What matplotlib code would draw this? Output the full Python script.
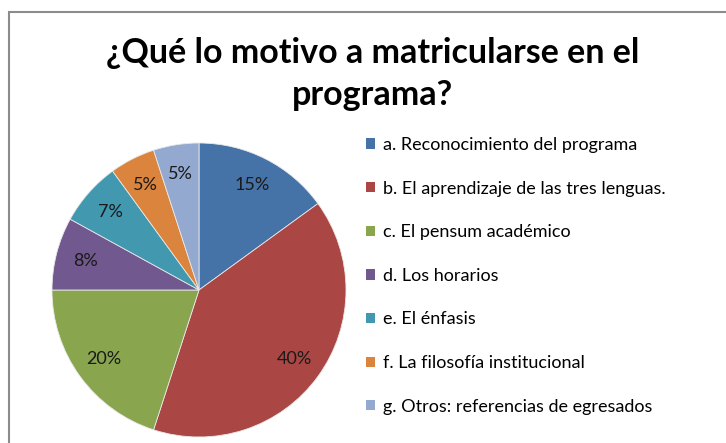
import matplotlib
matplotlib.use("Agg")
import matplotlib.pyplot as plt
from matplotlib.patches import Rectangle, Patch

labels = [
    "a. Reconocimiento del programa",
    "b. El aprendizaje de las tres lenguas.",
    "c. El pensum académico",
    "d. Los horarios",
    "e. El énfasis",
    "f. La filosofía institucional",
    "g. Otros: referencias de egresados",
]
values = [15, 40, 20, 8, 7, 5, 5]
colors = ["#4572A7", "#AA4643", "#89A54E", "#71588F", "#4198AF", "#DB843D", "#93A9CF"]
title = "¿Qué lo motivo a matricularse en el\nprograma?"

fig = plt.figure(figsize=(7.26, 4.43), dpi=100)

# grey chart-area frame, running off the right and bottom edges
fig.patches.append(Rectangle((8.5 / 726, -0.05), 1.2, 1.05 - 12 / 443,
                             transform=fig.transFigure, fill=False,
                             edgecolor="#8c8c8c", linewidth=1.5))

ax = fig.add_axes([52 / 726, 6 / 443, 294 / 726, 294 / 443])
wedges, texts, autotexts = ax.pie(
    values, colors=colors, startangle=90, counterclock=False,
    autopct="%d%%", pctdistance=0.8,
    wedgeprops=dict(edgecolor="#e8e8e8", linewidth=0.6),
    textprops=dict(fontsize=13, color="#1a1a1a", family="Lato"),
)
ax.set_xlim(-1, 1)
ax.set_ylim(-1, 1)
ax.set_aspect("equal")

fig.text(373 / 726, 1 - 74 / 443, title, ha="center", va="center",
         fontsize=24.5, fontweight="bold", family="Lato", linespacing=1.35)

handles = [Patch(facecolor=c, edgecolor="none") for c in colors]
fig.legend(handles, labels, loc="upper left", bbox_to_anchor=(366 / 726, 1 - 137 / 443),
           frameon=False, prop=dict(family="Lato", size=13),
           labelspacing=1.53, handlelength=0.5, handleheight=0.5, handletextpad=0.45,
           borderaxespad=0, borderpad=0)

fig.savefig("out.png", dpi=100)
